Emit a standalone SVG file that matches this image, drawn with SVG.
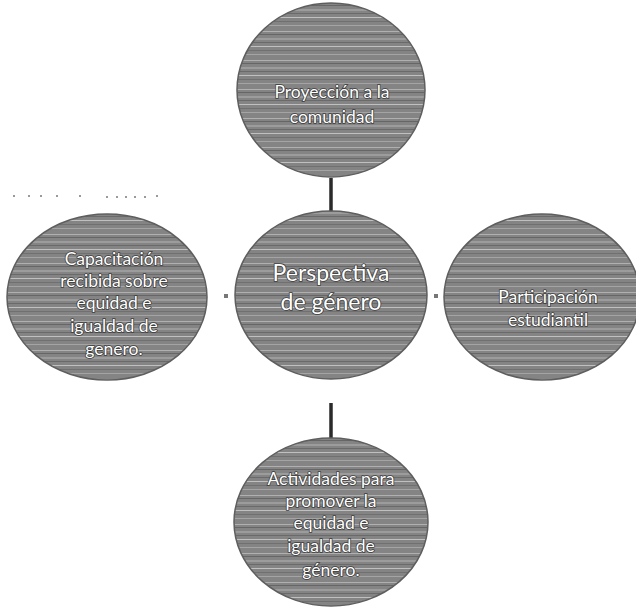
<svg xmlns="http://www.w3.org/2000/svg" width="636" height="611" viewBox="0 0 636 611">
<defs>
<pattern id="scan" patternUnits="userSpaceOnUse" width="40" height="29">
<rect width="40" height="29" fill="#848484"/>
<rect y="2" width="40" height="1" fill="#b0b0b0"/>
<rect y="5" width="40" height="1" fill="#666666"/>
<rect y="9" width="40" height="2" fill="#9c9c9c"/>
<rect y="13" width="40" height="1" fill="#6a6a6a"/>
<rect y="17" width="40" height="1" fill="#c0c0c0"/>
<rect y="21" width="40" height="1" fill="#707070"/>
<rect y="25" width="40" height="1" fill="#a4a4a4"/>
</pattern>
<style>
.node ellipse { fill: url(#scan); stroke: #5e5e5e; stroke-width: 1.5; }
.node text { font-family: Lato, "Open Sans", sans-serif; fill: #ffffff; text-anchor: middle; stroke: #3c3c3c; stroke-width: 1.6; paint-order: stroke; }
.s { font-size: 17.5px; }
.b { font-size: 23px; }
.conn line { stroke: #2a2a2a; stroke-width: 3.5; }
.conn rect { fill: #777777; }
.speck { fill: #9a9a9a; }
</style>
</defs>
<g id="specks">
<rect class="speck" x="13" y="195" width="2" height="2"/>
<rect class="speck" x="28" y="195" width="2" height="2"/>
<rect class="speck" x="40" y="195" width="2" height="2"/>
<rect class="speck" x="56" y="195" width="2" height="2"/>
<rect class="speck" x="79" y="195" width="2" height="2"/>
<rect class="speck" x="106" y="196" width="2" height="2"/>
<rect class="speck" x="116" y="196" width="2" height="2"/>
<rect class="speck" x="125" y="196" width="2" height="2"/>
<rect class="speck" x="134" y="196" width="2" height="2"/>
<rect class="speck" x="144" y="196" width="2" height="2"/>
<rect class="speck" x="156" y="195" width="2" height="2"/>
</g>
<g class="conn" id="connectors">
<line x1="331" y1="178" x2="331" y2="211"/>
<line x1="331" y1="403" x2="331" y2="438"/>
<rect x="224" y="294" width="4" height="4"/>
<rect x="434" y="294" width="4" height="4"/>
</g>
<g class="node" id="top">
<ellipse cx="331" cy="90" rx="94" ry="87"/>
<text class="s" x="332" y="98">Proyección a la</text>
<text class="s" x="332" y="123">comunidad</text>
</g>
<g class="node" id="center">
<ellipse cx="331" cy="295" rx="96" ry="84"/>
<text class="b" x="331" y="281">Perspectiva</text>
<text class="b" x="331" y="310">de género</text>
</g>
<g class="node" id="left">
<ellipse cx="107" cy="297" rx="100" ry="83"/>
<text class="s" x="114" y="265">Capacitación</text>
<text class="s" x="114" y="287">recibida sobre</text>
<text class="s" x="114" y="309">equidad e</text>
<text class="s" x="114" y="332">igualdad de</text>
<text class="s" x="114" y="355">genero.</text>
</g>
<g class="node" id="right">
<ellipse cx="542" cy="297" rx="98" ry="83"/>
<text class="s" x="548" y="303">Participación</text>
<text class="s" x="548" y="326">estudiantil</text>
</g>
<g class="node" id="bottom">
<ellipse cx="331" cy="522" rx="97" ry="84"/>
<text class="s" x="331" y="485">Actividades para</text>
<text class="s" x="331" y="507">promover  la</text>
<text class="s" x="331" y="529">equidad e</text>
<text class="s" x="331" y="552">igualdad de</text>
<text class="s" x="331" y="576">género.</text>
</g>
</svg>
